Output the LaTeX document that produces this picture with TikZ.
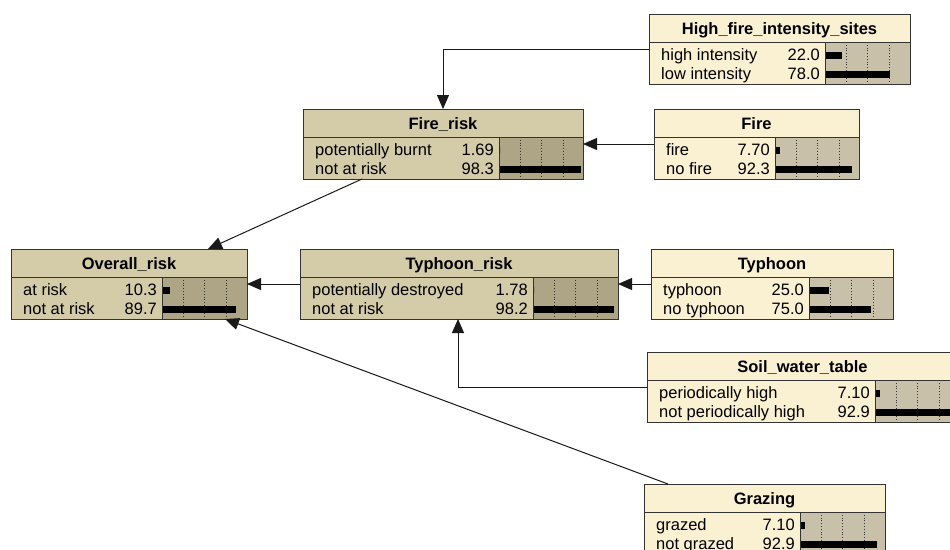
\documentclass[tikz,border=0pt]{standalone}
\usepackage{fontspec}
\setmainfont{Liberation Sans}
\usetikzlibrary{arrows.meta}
\definecolor{rootT}{HTML}{FAF0D2}
\definecolor{rootBar}{HTML}{C9C0A9}
\definecolor{childT}{HTML}{D4CCA8}
\definecolor{childBar}{HTML}{ADA585}
\definecolor{bdr}{HTML}{333333}
\tikzset{
  bnbox/.style={draw=bdr, line width=1pt, inner sep=0pt, outer sep=0pt, anchor=north west, minimum height=70pt},
  bnttl/.style={font=\fontsize{16.5}{18}\selectfont\bfseries, inner sep=0pt, anchor=base},
  bnlbl/.style={font=\fontsize{16.5}{18}\selectfont, inner sep=0pt},
  bnlink/.style={draw=black!90, line width=1pt, -{Triangle[length=14pt,width=12pt]}},
  bngrid/.style={draw=black!80, dotted, line width=0.8pt},
  bnline/.style={draw=bdr, line width=1pt},
}
% name, x, y, width, bar offset, title, kind
\newcommand{\bnode}[7]{%
  \node[bnbox, fill=#7T, minimum width=#4pt] (#1) at (#2,#3) {};
  \fill[#7Bar] ([xshift=#5pt,yshift=-28pt]#1.north west) rectangle (#1.south east);
  \foreach \k in {1,2,3}
    \draw[bngrid] ([xshift=#5pt+21.3pt*\k, yshift=-28pt]#1.north west) -- ([xshift=#5pt+21.3pt*\k]#1.south west);
  \draw[bnline] ([yshift=-28pt]#1.north west) -- ([yshift=-28pt]#1.north east);
  \draw[bnline] ([xshift=#5pt,yshift=-28pt]#1.north west) -- ([xshift=#5pt]#1.south west);
  \node[bnttl] at ([yshift=-20.5pt]#1.north) {#6};
  \draw[bnline] (#1.north west) rectangle (#1.south east);
}
% name, bar offset, row centre, label, value, percent
\newcommand{\brow}[6]{%
  \node[bnlbl, anchor=base west] at ([xshift=12pt,yshift=-#3pt-5pt]#1.north west) {#4};
  \node[bnlbl, anchor=base east] at ([xshift=#2pt-5pt,yshift=-#3pt-5pt]#1.north west) {#5};
  \pgfmathsetmacro\bnlen{max(0,0.84*#6-2)}
  \fill[black] ([xshift=#2pt+1pt,yshift=-#3pt+3.5pt]#1.north west) rectangle ++(\bnlen pt,-7pt);
}
\begin{document}
\begin{tikzpicture}[x=1pt,y=-1pt]
\useasboundingbox (0,0) rectangle (950,549);
\fill[white] (0,0) rectangle (950,549);

\bnode{hf}{649}{14}{261}{176}{High\_fire\_intensity\_sites}{root}
\brow{hf}{176}{41}{high intensity}{22.0}{22.0}
\brow{hf}{176}{60}{low intensity}{78.0}{78.0}

\bnode{fr}{303}{109}{280}{196}{Fire\_risk}{child}
\brow{fr}{196}{41}{potentially burnt}{1.69}{1.69}
\brow{fr}{196}{60}{not at risk}{98.3}{98.3}

\bnode{fi}{654}{109}{205}{121}{Fire}{root}
\brow{fi}{121}{41}{fire}{7.70}{7.70}
\brow{fi}{121}{60}{no fire}{92.3}{92.3}

\bnode{or}{11}{249}{236}{151}{Overall\_risk}{child}
\brow{or}{151}{41}{at risk}{10.3}{10.3}
\brow{or}{151}{60}{not at risk}{89.7}{89.7}

\bnode{tr}{300}{249}{318}{233}{Typhoon\_risk}{child}
\brow{tr}{233}{41}{potentially destroyed}{1.78}{1.78}
\brow{tr}{233}{60}{not at risk}{98.2}{98.2}

\bnode{ty}{651}{249}{242}{158}{Typhoon}{root}
\brow{ty}{158}{41}{typhoon}{25.0}{25.0}
\brow{ty}{158}{60}{no typhoon}{75.0}{75.0}

\bnode{sw}{647}{352}{311}{228}{Soil\_water\_table}{root}
\brow{sw}{228}{41}{periodically high}{7.10}{7.10}
\brow{sw}{228}{60}{not periodically high}{92.9}{92.9}

\bnode{gr}{644}{484}{241}{156}{Grazing}{root}
\brow{gr}{156}{41}{grazed}{7.10}{7.10}
\brow{gr}{156}{60}{not grazed}{92.9}{92.9}

\draw[bnlink] (hf.west) -| ([xshift=140pt]fr.north west);
\draw[bnlink] (fi.west) -- (fr.east);
\draw[bnlink] ([xshift=59pt]fr.south west) -- ([xshift=197pt]or.north west);
\draw[bnlink] (tr.west) -- (or.east);
\draw[bnlink] (ty.west) -- (tr.east);
\draw[bnlink] (sw.west) -| ([xshift=158pt]tr.south west);
\draw[bnlink] ([xshift=24pt]gr.north west) -- ([xshift=214pt]or.south west);
\end{tikzpicture}
\end{document}
